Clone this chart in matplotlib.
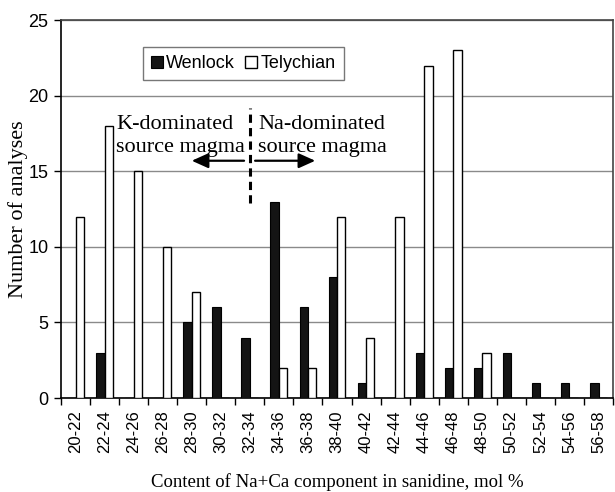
import numpy as np
import matplotlib.pyplot as plt

# bins of Na+Ca content, mol %
bins = ['20-22', '22-24', '24-26', '26-28', '28-30', '30-32', '32-34', '34-36',
        '36-38', '38-40', '40-42', '42-44', '44-46', '46-48', '48-50', '50-52',
        '52-54', '54-56', '56-58']
wenlock = [0, 3, 0, 0, 5, 6, 4, 13, 6, 8, 1, 0, 3, 2, 2, 3, 1, 1, 1]
telychian = [12, 18, 15, 10, 7, 0, 0, 2, 2, 12, 4, 12, 22, 23, 3, 0, 0, 0, 0]

sans = 'Liberation Sans'
serif = 'Liberation Serif'

fig = plt.figure(figsize=(6.15, 4.92), dpi=100)
ax = fig.add_axes([0.0992, 0.191, 0.8976, 0.768])

x = np.arange(len(bins))
w = 0.29
ax.bar(x - w/2, wenlock, width=w, color='#141414', edgecolor='black', linewidth=0.8,
       label='Wenlock', zorder=3)
ax.bar(x + w/2, telychian, width=w, color='white', edgecolor='black', linewidth=1.0,
       label='Telychian', zorder=3)

ax.set_xlim(-0.5, len(bins) - 0.5)
ax.set_ylim(0, 25)
ax.set_yticks([0, 5, 10, 15, 20, 25])
ax.yaxis.grid(True, color='#8a8a8a', linewidth=1.0, zorder=0)

ax.set_xticks(x)
ax.set_xticklabels(bins, rotation=90, fontfamily=sans, fontsize=12)
ax.set_xticks(np.arange(len(bins) + 1) - 0.5, minor=True)
ax.tick_params(axis='x', which='major', length=0, pad=9)
ax.tick_params(axis='x', which='minor', length=5, width=1.0, direction='out')
ax.tick_params(axis='y', length=5, width=1.0, direction='out', pad=4)
for lab in ax.get_yticklabels():
    lab.set_fontfamily(sans)
    lab.set_fontsize(13)

for s in ax.spines.values():
    s.set_linewidth(1.2)
ax.spines['top'].set_color('#444444')
ax.spines['right'].set_color('#444444')

ax.set_ylabel('Number of analyses', fontfamily=serif, fontsize=16, labelpad=0)
ax.set_xlabel('Content of Na+Ca component in sanidine, mol %', fontfamily=serif,
              fontsize=13.5, labelpad=14)

leg = ax.legend(loc='upper left', bbox_to_anchor=(0.148, 0.929), ncol=2,
                prop={'family': sans, 'size': 13}, frameon=True, fancybox=False,
                borderaxespad=0, handlelength=0.65, handleheight=0.65, handletextpad=0.2,
                columnspacing=0.55, borderpad=0.45)
leg.get_frame().set_edgecolor('#555555')
leg.get_frame().set_linewidth(1.0)

# boundary between K- and Na-dominated source magma
ax.plot([6, 6], [12.9, 19.2], color='black', linewidth=2.2,
        linestyle=(0, (2.7, 1.7)), zorder=4)
arrow = dict(arrowstyle='-|>,head_length=1.0,head_width=0.45', color='black',
             linewidth=1.6, shrinkA=0, shrinkB=0)
ax.annotate('', xy=(4.0, 15.7), xytext=(5.8, 15.7), arrowprops=arrow)
ax.annotate('', xy=(8.25, 15.7), xytext=(6.18, 15.7), arrowprops=arrow)
ax.text(1.4, 16.27, 'K-dominated\nsource magma', fontfamily=serif, fontsize=16,
        linespacing=1.3, va='baseline', ha='left', zorder=5)
ax.text(6.28, 16.27, 'Na-dominated\nsource magma', fontfamily=serif, fontsize=16,
        linespacing=1.3, va='baseline', ha='left', zorder=5)

fig.savefig('out.png', dpi=100)
